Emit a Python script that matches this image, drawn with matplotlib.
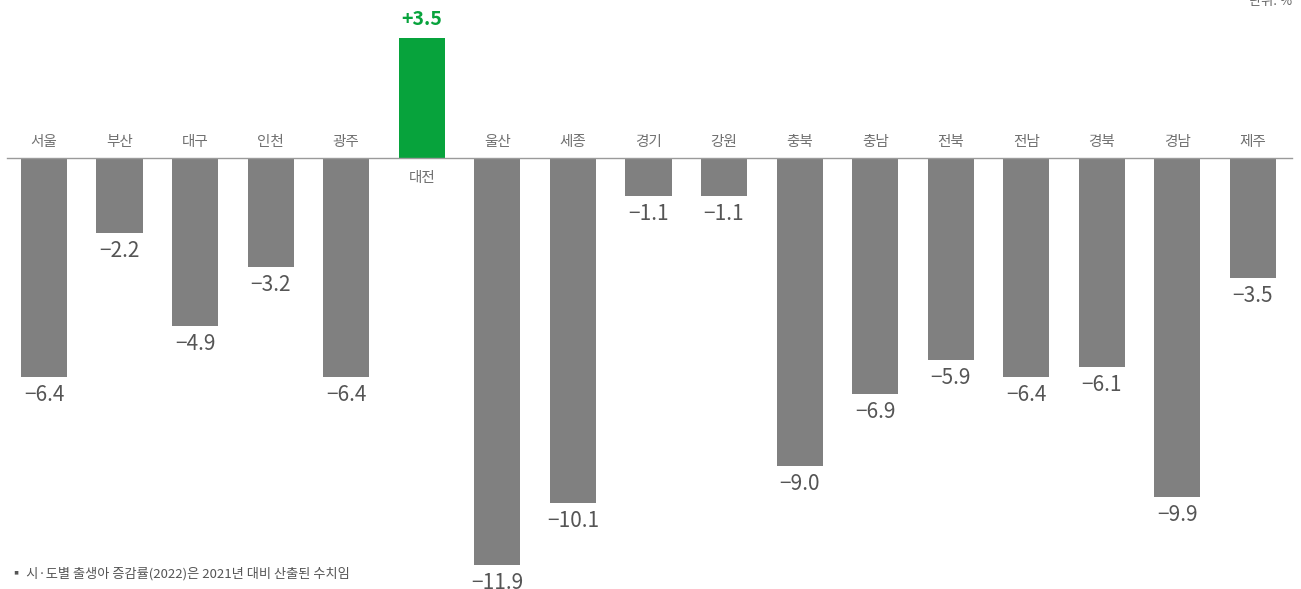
import matplotlib
matplotlib.use("Agg")
import matplotlib.pyplot as plt

plt.rcParams['font.family'] = ['Noto Sans CJK KR', 'DejaVu Sans']

regions = ["서울", "부산", "대구", "인천", "광주", "대전", "울산", "세종", "경기",
           "강원", "충북", "충남", "전북", "전남", "경북", "경남", "제주"]
values = [-6.4, -2.2, -4.9, -3.2, -6.4, 3.5, -11.9, -10.1, -1.1,
          -1.1, -9.0, -6.9, -5.9, -6.4, -6.1, -9.9, -3.5]
footnote = "▪ 시·도별 출생아 증감률(2022)은 2021년 대비 산출된 수치임"
unit = "단위: %"

GRAY = "#808080"
GREEN = "#07a33c"

fig = plt.figure(figsize=(13.01, 5.89), dpi=100)
ax = fig.add_axes([0, 0, 1, 1])
ax.set_xlim(-0.582, 16.636)
ax.set_ylim(-12.6, 4.62)
ax.axis('off')

x = list(range(len(regions)))
colors = [GREEN if v > 0 else GRAY for v in values]
ax.bar(x, values, width=0.61, color=colors, zorder=2)
ax.axhline(0, xmin=0.005, xmax=0.993, color="#9a9a9a", lw=1.0, zorder=3)

px = 1 / 34.2  # data units per pixel (vertical)
for xi, name, v in zip(x, regions, values):
    if v > 0:
        ax.text(xi, -20 * px, name, ha='center', va='center', fontsize=10.5, color="#707070")
        ax.text(xi, v + 19 * px, f"+{v:.1f}", ha='center', va='center', fontsize=14,
                fontweight='bold', color=GREEN)
    else:
        ax.text(xi, 16 * px, name, ha='center', va='center', fontsize=10.5, color="#707070")
        ax.text(xi, v - 18 * px, f"\u2212{abs(v):.1f}", ha='center', va='center',
                fontsize=15, color="#555555", fontweight='light')

fig.text(10 / 1301, 1 - 574 / 589, footnote, ha='left', va='center', fontsize=9.5, color="#555555")
fig.text(1292 / 1301, 1 - 2 / 589, unit, ha='right', va='center', fontsize=9.5, color="#666666")

fig.savefig("out.png", dpi=100)
